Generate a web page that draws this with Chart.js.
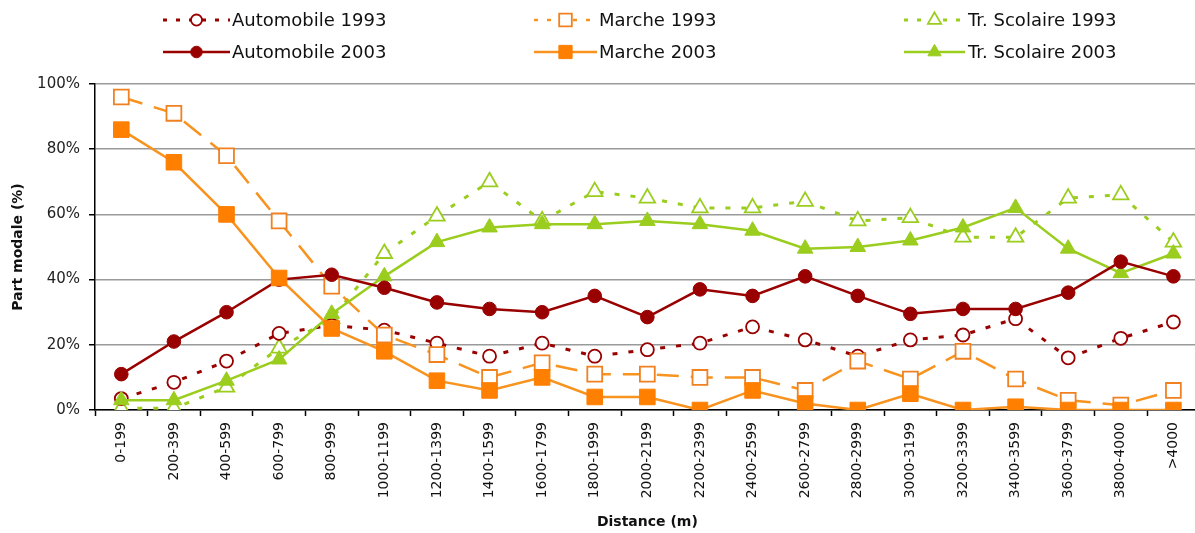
<!DOCTYPE html>
<html>
<head>
<meta charset="utf-8">
<script src="https://cdn.jsdelivr.net/npm/chart.js@4/dist/chart.umd.min.js"></script>
<style>
html,body{margin:0;padding:0;background:#fff;overflow:hidden;width:1195px;height:533px;}
#c{display:block;}
</style>
</head>
<body>
<canvas id="c" width="1212" height="533" style="width:1212px;height:533px"></canvas>
<script>
const categories = ['0-199','200-399','400-599','600-799','800-999','1000-1199','1200-1399','1400-1599','1600-1799','1800-1999','2000-2199','2200-2399','2400-2599','2600-2799','2800-2999','3000-3199','3200-3399','3400-3599','3600-3799','3800-4000','>4000'];
const automobile1993 = [3.5, 8.5, 15, 23.5, 26, 24.5, 20.5, 16.5, 20.5, 16.5, 18.5, 20.5, 25.5, 21.5, 16.5, 21.5, 23, 28, 16, 22, 27];
const automobile2003 = [11, 21, 30, 40, 41.5, 37.5, 33, 31, 30, 35, 28.5, 37, 35, 41, 35, 29.5, 31, 31, 36, 45.5, 41];
const marche1993 = [96, 91, 78, 58, 38, 23, 17, 10, 14.5, 11, 11, 10, 10, 6, 15, 9.5, 18, 9.5, 3, 1.5, 6];
const marche2003 = [86, 76, 60, 40.5, 25, 18, 9, 6, 10, 4, 4, 0, 6, 2, 0, 5, 0, 1, 0, 0, 0];
const scolaire1993 = [0.5, 0.5, 7, 19, 28, 48, 59.5, 70, 58, 67, 65, 62, 62, 64, 58, 59, 53, 53, 65, 66, 51.5];
const scolaire2003 = [3, 3, 9, 15.5, 29.5, 41, 51.5, 56, 57, 57, 58, 57, 55, 49.5, 50, 52, 56, 62, 49.5, 42, 48];
const yTicks = [0, 20, 40, 60, 80, 100];

const RED = '#990000', ORANGE_LINE = '#F7931E', ORANGE_FILL = '#FF7F00', GREEN = '#9ACD1E';

const datasets = [
  {label:'Automobile 1993', data:automobile1993, borderColor:RED, borderWidth:3, borderDash:[5,11],
   pointStyle:'circle', pointRadius:6.5, pointBackgroundColor:'#fff', pointBorderColor:RED, pointBorderWidth:1.8, order:4},
  {label:'Marche 1993', data:marche1993, borderColor:ORANGE_LINE, borderWidth:2.5, borderDash:[22,12],
   pointStyle:'rect', pointRadius:10.5, pointBackgroundColor:'#fff', pointBorderColor:'#F08020', pointBorderWidth:1.8, order:3},
  {label:'Tr. Scolaire 1993', data:scolaire1993, borderColor:GREEN, borderWidth:3, borderDash:[5,11],
   pointStyle:'triangle', pointRadius:9, pointBackgroundColor:'#fff', pointBorderColor:GREEN, pointBorderWidth:1.8, order:5},
  {label:'Automobile 2003', data:automobile2003, borderColor:RED, borderWidth:2.5, borderDash:[],
   pointStyle:'circle', pointRadius:6.8, pointBackgroundColor:RED, pointBorderColor:RED, pointBorderWidth:1, order:1},
  {label:'Marche 2003', data:marche2003, borderColor:ORANGE_LINE, borderWidth:2.5, borderDash:[],
   pointStyle:'rect', pointRadius:11, pointBackgroundColor:ORANGE_FILL, pointBorderColor:ORANGE_FILL, pointBorderWidth:1, order:0},
  {label:'Tr. Scolaire 2003', data:scolaire2003, borderColor:GREEN, borderWidth:2.5, borderDash:[],
   pointStyle:'triangle', pointRadius:9, pointBackgroundColor:GREEN, pointBorderColor:GREEN, pointBorderWidth:1, order:2}
];

const legendPos = [
  {x1:163, x2:230, tx:232, y:20},
  {x1:534, x2:597, tx:599, y:20},
  {x1:904, x2:965, tx:968, y:20},
  {x1:163, x2:230, tx:232, y:52},
  {x1:534, x2:597, tx:599, y:52},
  {x1:904, x2:965, tx:968, y:52}
];

const legendPlugin = {
  id:'customLegend',
  afterDraw(chart){
    const ctx = chart.ctx;
    datasets.forEach((ds, i) => {
      const p = legendPos[i];
      ctx.save();
      ctx.strokeStyle = ds.borderColor;
      ctx.lineWidth = ds.borderWidth;
      ctx.setLineDash(ds.borderDash.length ? [4, 9] : []);
      ctx.beginPath();
      ctx.moveTo(p.x1, p.y);
      ctx.lineTo(p.x2, p.y);
      ctx.stroke();
      ctx.setLineDash([]);
      const cx = (p.x1 + p.x2) / 2;
      ctx.fillStyle = ds.pointBackgroundColor;
      ctx.strokeStyle = ds.pointBorderColor;
      ctx.lineWidth = ds.pointBorderWidth;
      Chart.helpers.drawPoint(ctx, {pointStyle: ds.pointStyle, radius: ds.pointRadius * 0.85, rotation: 0, borderWidth: ds.pointBorderWidth}, cx, p.y);
      ctx.fillStyle = '#111';
      ctx.font = '18px "DejaVu Sans"';
      ctx.textBaseline = 'middle';
      ctx.textAlign = 'left';
      ctx.fillText(ds.label, p.tx, p.y + 1);
      ctx.restore();
    });
  }
};

new Chart(document.getElementById('c'), {
  type:'line',
  data:{labels:categories, datasets:datasets},
  plugins:[legendPlugin],
  options:{
    responsive:false,
    devicePixelRatio:1,
    animation:false,
    layout:{padding:{top:84, right:5, left:0, bottom:0}},
    elements:{line:{tension:0, fill:false}},
    plugins:{legend:{display:false}, tooltip:{enabled:false}},
    scales:{
      x:{
        offset:true,
        grid:{display:true, drawOnChartArea:false, drawTicks:true, tickLength:6, tickColor:'#000', tickWidth:1.5, offset:true},
        border:{display:true, color:'#000', width:1.5},
        ticks:{autoSkip:false, minRotation:90, maxRotation:90, padding:6, color:'#111', font:{family:'DejaVu Sans', size:14}},
        title:{display:true, text:'Distance (m)', color:'#111', font:{family:'DejaVu Sans', size:14, weight:'bold'}, padding:{top:0, bottom:2}},
        afterFit(scale){ scale.height = 123; }
      },
      y:{
        min:0, max:100,
        afterBuildTicks(scale){ scale.ticks = yTicks.map(v => ({value:v})); },
        grid:{color:'#9a9a9a', lineWidth:1.5, tickLength:6, tickColor:'#000', tickWidth:1.5},
        border:{display:true, color:'#000', width:1.5},
        ticks:{padding:9, color:'#222', font:{family:'DejaVu Sans', size:15}, callback:(v)=>v+'%'},
        title:{display:true, text:'Part modale (%)', color:'#111', font:{family:'DejaVu Sans', size:14, weight:'bold'}, padding:{top:10, bottom:0}},
        afterFit(scale){ scale.width = 95; }
      }
    }
  }
});
</script>
</body>
</html>
